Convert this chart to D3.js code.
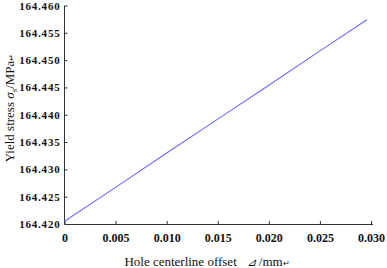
<!DOCTYPE html>
<html><head><meta charset="utf-8">
<script src="https://cdn.jsdelivr.net/npm/d3@7"></script>
<style>body{margin:0;background:#fff}svg{display:block}</style>
</head><body>
<script>
const offsets = [0, 0.005, 0.010, 0.015, 0.020, 0.025, 0.0296];
const stress = [164.4205, 164.4267, 164.4330, 164.4392, 164.4454, 164.4517, 164.4574];
const xTicks = [0, 0.005, 0.010, 0.015, 0.020, 0.025, 0.030];
const xTickLabels = ["0", "0.005", "0.010", "0.015", "0.020", "0.025", "0.030"];
const yTicks = [164.420, 164.425, 164.430, 164.435, 164.440, 164.445, 164.450, 164.455, 164.460];
const yTickLabels = ["164.420","164.425","164.430","164.435","164.440","164.445","164.450","164.455","164.460"];

const W = 387, H = 268;
const svg = d3.select("body").append("svg").attr("width", W).attr("height", H);
const x = d3.scaleLinear().domain([0, 0.030]).range([64.5, 371]);
const y = d3.scaleLinear().domain([164.420, 164.460]).range([224, 5.5]);
const font = "'Liberation Serif','Times New Roman',serif";

const xa = svg.append("g").attr("transform", "translate(0,224)")
  .call(d3.axisBottom(x).tickValues(xTicks).tickFormat((d,i)=>xTickLabels[i]).tickSizeInner(-3).tickSizeOuter(0).tickPadding(9));
const ya = svg.append("g").attr("transform", "translate(64.5,0)")
  .call(d3.axisLeft(y).tickValues(yTicks).tickFormat((d,i)=>yTickLabels[i]).tickSizeInner(-3).tickSizeOuter(0).tickPadding(4));
[xa, ya].forEach(a => {
  a.selectAll("path,line").attr("stroke", "#333");
  a.selectAll("text").attr("font-family", font).attr("font-weight", "bold").attr("fill", "#111");
});
xa.selectAll("text").attr("font-size", 12);
ya.selectAll("text").attr("font-size", 11).attr("letter-spacing", 0.8);
xa.select(".domain").attr("d", "M64.5,0.5H373");
ya.select(".domain").attr("d", "M0,5.5V224");

svg.append("path")
  .datum(offsets.map((o,i)=>[o, stress[i]]))
  .attr("fill", "none").attr("stroke", "#6b6bff").attr("stroke-width", 1.1)
  .attr("d", d3.line().x(d=>x(d[0])).y(d=>y(d[1])));

const xl = svg.append("text").attr("x", 207).attr("y", 266).attr("text-anchor", "middle")
  .attr("font-family", font).attr("font-size", 13).attr("fill", "#111");
xl.append("tspan").text("Hole centerline offset\u00a0\u00a0\u00a0");
xl.append("tspan").attr("font-style", "italic").attr("font-size", 11).text("⊿");
xl.append("tspan").text(" /mm");
xl.append("tspan").attr("font-size", 8).text("↵");

const yl = svg.append("text").attr("transform", "translate(14,108) rotate(-90)").attr("text-anchor", "middle")
  .attr("font-family", font).attr("font-size", 13).attr("fill", "#111");
yl.append("tspan").text("Yield stress ");
yl.append("tspan").attr("font-style", "italic").text("σ");
yl.append("tspan").attr("font-style", "italic").attr("font-size", 9).attr("dy", 3).text("s");
yl.append("tspan").attr("dy", -3).text("/MPa");
yl.append("tspan").attr("font-size", 8).text("↵");
</script>
</body></html>
